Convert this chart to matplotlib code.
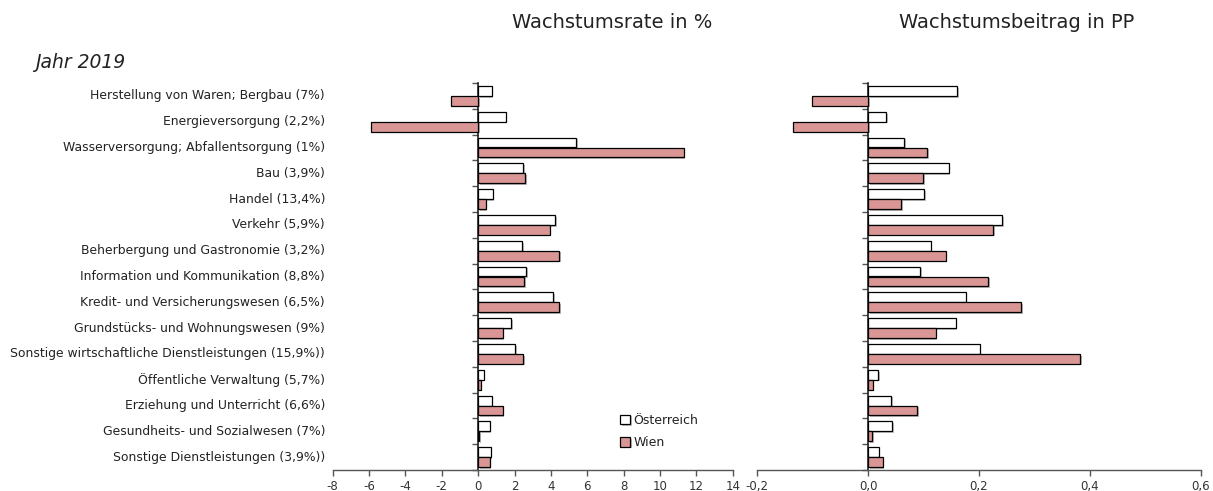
import numpy as np
import matplotlib
matplotlib.use("Agg")
import matplotlib.pyplot as plt
import matplotlib.patheffects as pe
from matplotlib.ticker import FuncFormatter

plt.rcParams['font.family'] = ['DejaVu Sans']

CATEGORIES = [
    "Herstellung von Waren; Bergbau (7%)",
    "Energieversorgung (2,2%)",
    "Wasserversorgung; Abfallentsorgung (1%)",
    "Bau (3,9%)",
    "Handel (13,4%)",
    "Verkehr (5,9%)",
    "Beherbergung und Gastronomie (3,2%)",
    "Information und Kommunikation (8,8%)",
    "Kredit- und Versicherungswesen (6,5%)",
    "Grundstücks- und Wohnungswesen (9%)",
    "Sonstige wirtschaftliche Dienstleistungen (15,9%))",
    "Öffentliche Verwaltung (5,7%)",
    "Erziehung und Unterricht (6,6%)",
    "Gesundheits- und Sozialwesen (7%)",
    "Sonstige Dienstleistungen (3,9%))",
]

# Wachstumsrate in %
rate_at   = [0.74, 1.52, 5.4, 2.46, 0.8, 4.22, 2.41, 2.63, 4.13, 1.8, 2.02, 0.3, 0.74, 0.63, 0.69]
rate_wien = [-1.48, -5.9, 11.3, 2.57, 0.41, 3.94, 4.46, 2.52, 4.46, 1.35, 2.46, 0.13, 1.35, 0.07, 0.63]

# Wachstumsbeitrag in PP
contrib_at   = [0.161, 0.033, 0.065, 0.145, 0.101, 0.242, 0.113, 0.094, 0.176, 0.158, 0.201, 0.018, 0.041, 0.043, 0.019]
contrib_wien = [-0.101, -0.136, 0.106, 0.099, 0.060, 0.226, 0.140, 0.217, 0.276, 0.122, 0.382, 0.008, 0.088, 0.007, 0.026]

SERIES = ["Österreich", "Wien"]
COL_AT   = "white"
COL_WIEN = "#D99694"
TXT      = "#222222"

W, H = 1213, 491
fig = plt.figure(figsize=(W / 100, H / 100), dpi=100)

ax1 = fig.add_axes([332.7 / W, 21 / H, 400 / W, 387 / H])
ax2 = fig.add_axes([757.3 / W, 21 / H, 443.4 / W, 387 / H])

y = np.arange(len(CATEGORIES))
h = 0.38
shadow = [pe.SimplePatchShadow(offset=(1.2, -1.2), alpha=0.35), pe.Normal()]


def style_axes(ax, xmin, xmax, step, fmt):
    ax.set_xlim(xmin, xmax)
    ax.set_ylim(len(CATEGORIES) - 0.5, -0.5)
    for s in ("top", "right"):
        ax.spines[s].set_visible(False)
    ax.spines["left"].set_position(("data", 0))
    ax.spines["left"].set_color("#222222")
    ax.spines["left"].set_linewidth(1.2)
    ax.spines["bottom"].set_color("#555555")
    ax.spines["bottom"].set_linewidth(1.0)
    ax.set_yticks(np.arange(len(CATEGORIES) + 1) - 0.5)
    ax.set_yticklabels([])
    ax.tick_params(axis="y", direction="out", length=4, width=1, color="#555555")
    ax.set_xticks(np.arange(xmin, xmax + step / 2, step))
    ax.xaxis.set_major_formatter(FuncFormatter(fmt))
    ax.tick_params(axis="x", direction="out", length=4, width=1, color="#555555",
                   labelsize=8.5, labelcolor="#333333", pad=3)


def draw(ax, at, wien):
    b1 = ax.barh(y - h / 2, at, height=h, color=COL_AT, edgecolor="black",
                 linewidth=0.9, label=SERIES[0], zorder=3)
    b2 = ax.barh(y + h / 2, wien, height=h, color=COL_WIEN, edgecolor="black",
                 linewidth=0.9, label=SERIES[1], zorder=3)
    for p in list(b1) + list(b2):
        p.set_path_effects(shadow)


draw(ax1, rate_at, rate_wien)
style_axes(ax1, -8, 14, 2, lambda v, pos: f"{v:.0f}")

draw(ax2, contrib_at, contrib_wien)
style_axes(ax2, -0.2, 0.6, 0.2, lambda v, pos: f"{v:.1f}".replace(".", ","))

for i, name in enumerate(CATEGORIES):
    ax1.text(-0.019, i, name, transform=ax1.get_yaxis_transform(),
             ha="right", va="center", fontsize=8.9, color=TXT)

ax1.legend(loc="lower left", bbox_to_anchor=(0.69, 0.025), frameon=False,
           fontsize=9, handlelength=0.8, handleheight=0.8, handletextpad=0.3,
           labelspacing=0.75, labelcolor=TXT)

fig.text(612 / W, 1 - 22 / H, "Wachstumsrate in %", ha="center", va="center",
         fontsize=14, color=TXT)
fig.text(1017 / W, 1 - 22 / H, "Wachstumsbeitrag in PP", ha="center", va="center",
         fontsize=14, color=TXT)
fig.text(35 / W, 1 - 62 / H, "Jahr 2019", ha="left", va="center",
         fontsize=13.5, style="italic", color=TXT)

fig.savefig("out.png", dpi=100)
